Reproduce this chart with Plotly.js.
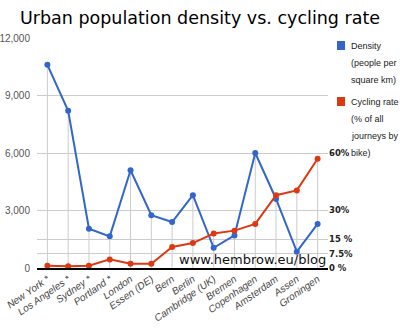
<!DOCTYPE html>
<html>
<head>
<meta charset="utf-8">
<script src="https://cdn.plot.ly/plotly-3.0.1.min.js"></script>
<style>html,body{margin:0;padding:0;background:#fff}#chart{width:400px;height:331px}</style>
</head>
<body>
<div id="chart"></div>
<script>
const cities = ["New York *", "Los Angeles *", "Sydney *", "Portland *", "London", "Essen (DE)", "Bern", "Berlin", "Cambridge (UK)", "Bremen", "Copenhagen", "Amsterdam", "Assen", "Groningen"];
const density = [10600, 8200, 2050, 1650, 5100, 2750, 2400, 3800, 1050, 1700, 6000, 3600, 850, 2300];
const cycling = [1.2, 0.9, 1.2, 4.5, 2.2, 2.2, 11, 13, 18, 19.5, 23, 38, 40.5, 57];
const densityTicks = [0, 3000, 6000, 9000, 12000];
const rateTicks = [0, 7.5, 15, 30, 60];
const rateTickText = ["0 %", "7.5%", "15 %", "30%", "60%"];

const BLUE = "#3366cc", RED = "#dc3912", GRID = "#cccccc";
const sans = "Liberation Sans, Arial, sans-serif";

// drop lines from the higher of the two points down to the axis (density units)
const dropTop = density.map((d, i) => Math.max(d, cycling[i] * 100));

const traces = [
  {
    x: cities, y: dropTop, type: "scatter", mode: "markers",
    marker: {size: 1, opacity: 0}, hoverinfo: "skip", showlegend: false,
    error_y: {type: "data", symmetric: false, array: dropTop.map(() => 0), arrayminus: dropTop, color: GRID, thickness: 1, width: 0}
  },
  {
    x: cities, y: cycling, yaxis: "y2", type: "scatter", mode: "lines+markers",
    line: {color: RED, width: 2}, marker: {color: RED, size: 6}, showlegend: false
  },
  {
    x: cities, y: density, type: "scatter", mode: "lines+markers",
    line: {color: BLUE, width: 2}, marker: {color: BLUE, size: 6}, showlegend: false
  }
];

const legendItems = [
  {color: BLUE, lines: ["Density", "(people per", "square km)"], top: 41},
  {color: RED, lines: ["Cycling rate", "(% of all", "journeys by", "bike)"], top: 97}
];
const shapes = [], annotations = [];
legendItems.forEach(it => {
  shapes.push({type: "rect", xref: "paper", yref: "paper",
    x0: (337 - 37) / 291, x1: (345 - 37) / 291,
    y0: (268 - (it.top + 9)) / 230, y1: (268 - it.top) / 230,
    fillcolor: it.color, line: {width: 0}});
  it.lines.forEach((t, k) => {
    annotations.push({xref: "paper", yref: "paper", x: (349 - 37) / 291, y: (268 - (it.top + 5 + k * 17)) / 230,
      text: t, showarrow: false, xanchor: "left", yanchor: "middle",
      font: {family: sans, size: 9, color: "#222"}});
  });
});
annotations.push({xref: "paper", yref: "paper", x: 1, y: 0, xanchor: "right", yanchor: "bottom", yshift: -1,
  text: "www.hembrow.eu/blog", showarrow: false, font: {family: "DejaVu Sans, sans-serif", size: 13, color: "#111"}});

const layout = {
  width: 400, height: 331,
  margin: {l: 37, r: 72, t: 38, b: 63},
  paper_bgcolor: "#fff", plot_bgcolor: "#fff",
  title: {text: "Urban population density vs. cycling rate", x: 0.5, xanchor: "center", y: 0.945, yanchor: "middle",
    font: {family: "DejaVu Sans, sans-serif", size: 17.5, color: "#000"}},
  xaxis: {
    type: "category", range: [-0.5, 13.5], showgrid: false, zeroline: false,
    showline: true, linecolor: "#000", linewidth: 1.5, ticks: "", tickangle: -35,
    tickfont: {family: sans, size: 10, color: "#444", style: "italic"}, automargin: false
  },
  yaxis: {
    range: [0, 12000], tickvals: densityTicks, tickformat: ",", showgrid: true, gridcolor: GRID,
    zeroline: false, ticks: "", ticklabelstandoff: 6, tickfont: {family: sans, size: 10, color: "#555"}, automargin: false
  },
  yaxis2: {
    overlaying: "y", side: "right", range: [0, 120], tickvals: rateTicks, ticktext: rateTickText,
    showgrid: true, gridcolor: GRID, zeroline: false, ticks: "",
    tickfont: {family: "DejaVu Sans, sans-serif", size: 8.5, color: "#222", weight: "bold"}, automargin: false
  },
  shapes: shapes, annotations: annotations, hovermode: false
};

Plotly.newPlot("chart", traces, layout, {displayModeBar: false, staticPlot: true});
</script>
</body>
</html>
